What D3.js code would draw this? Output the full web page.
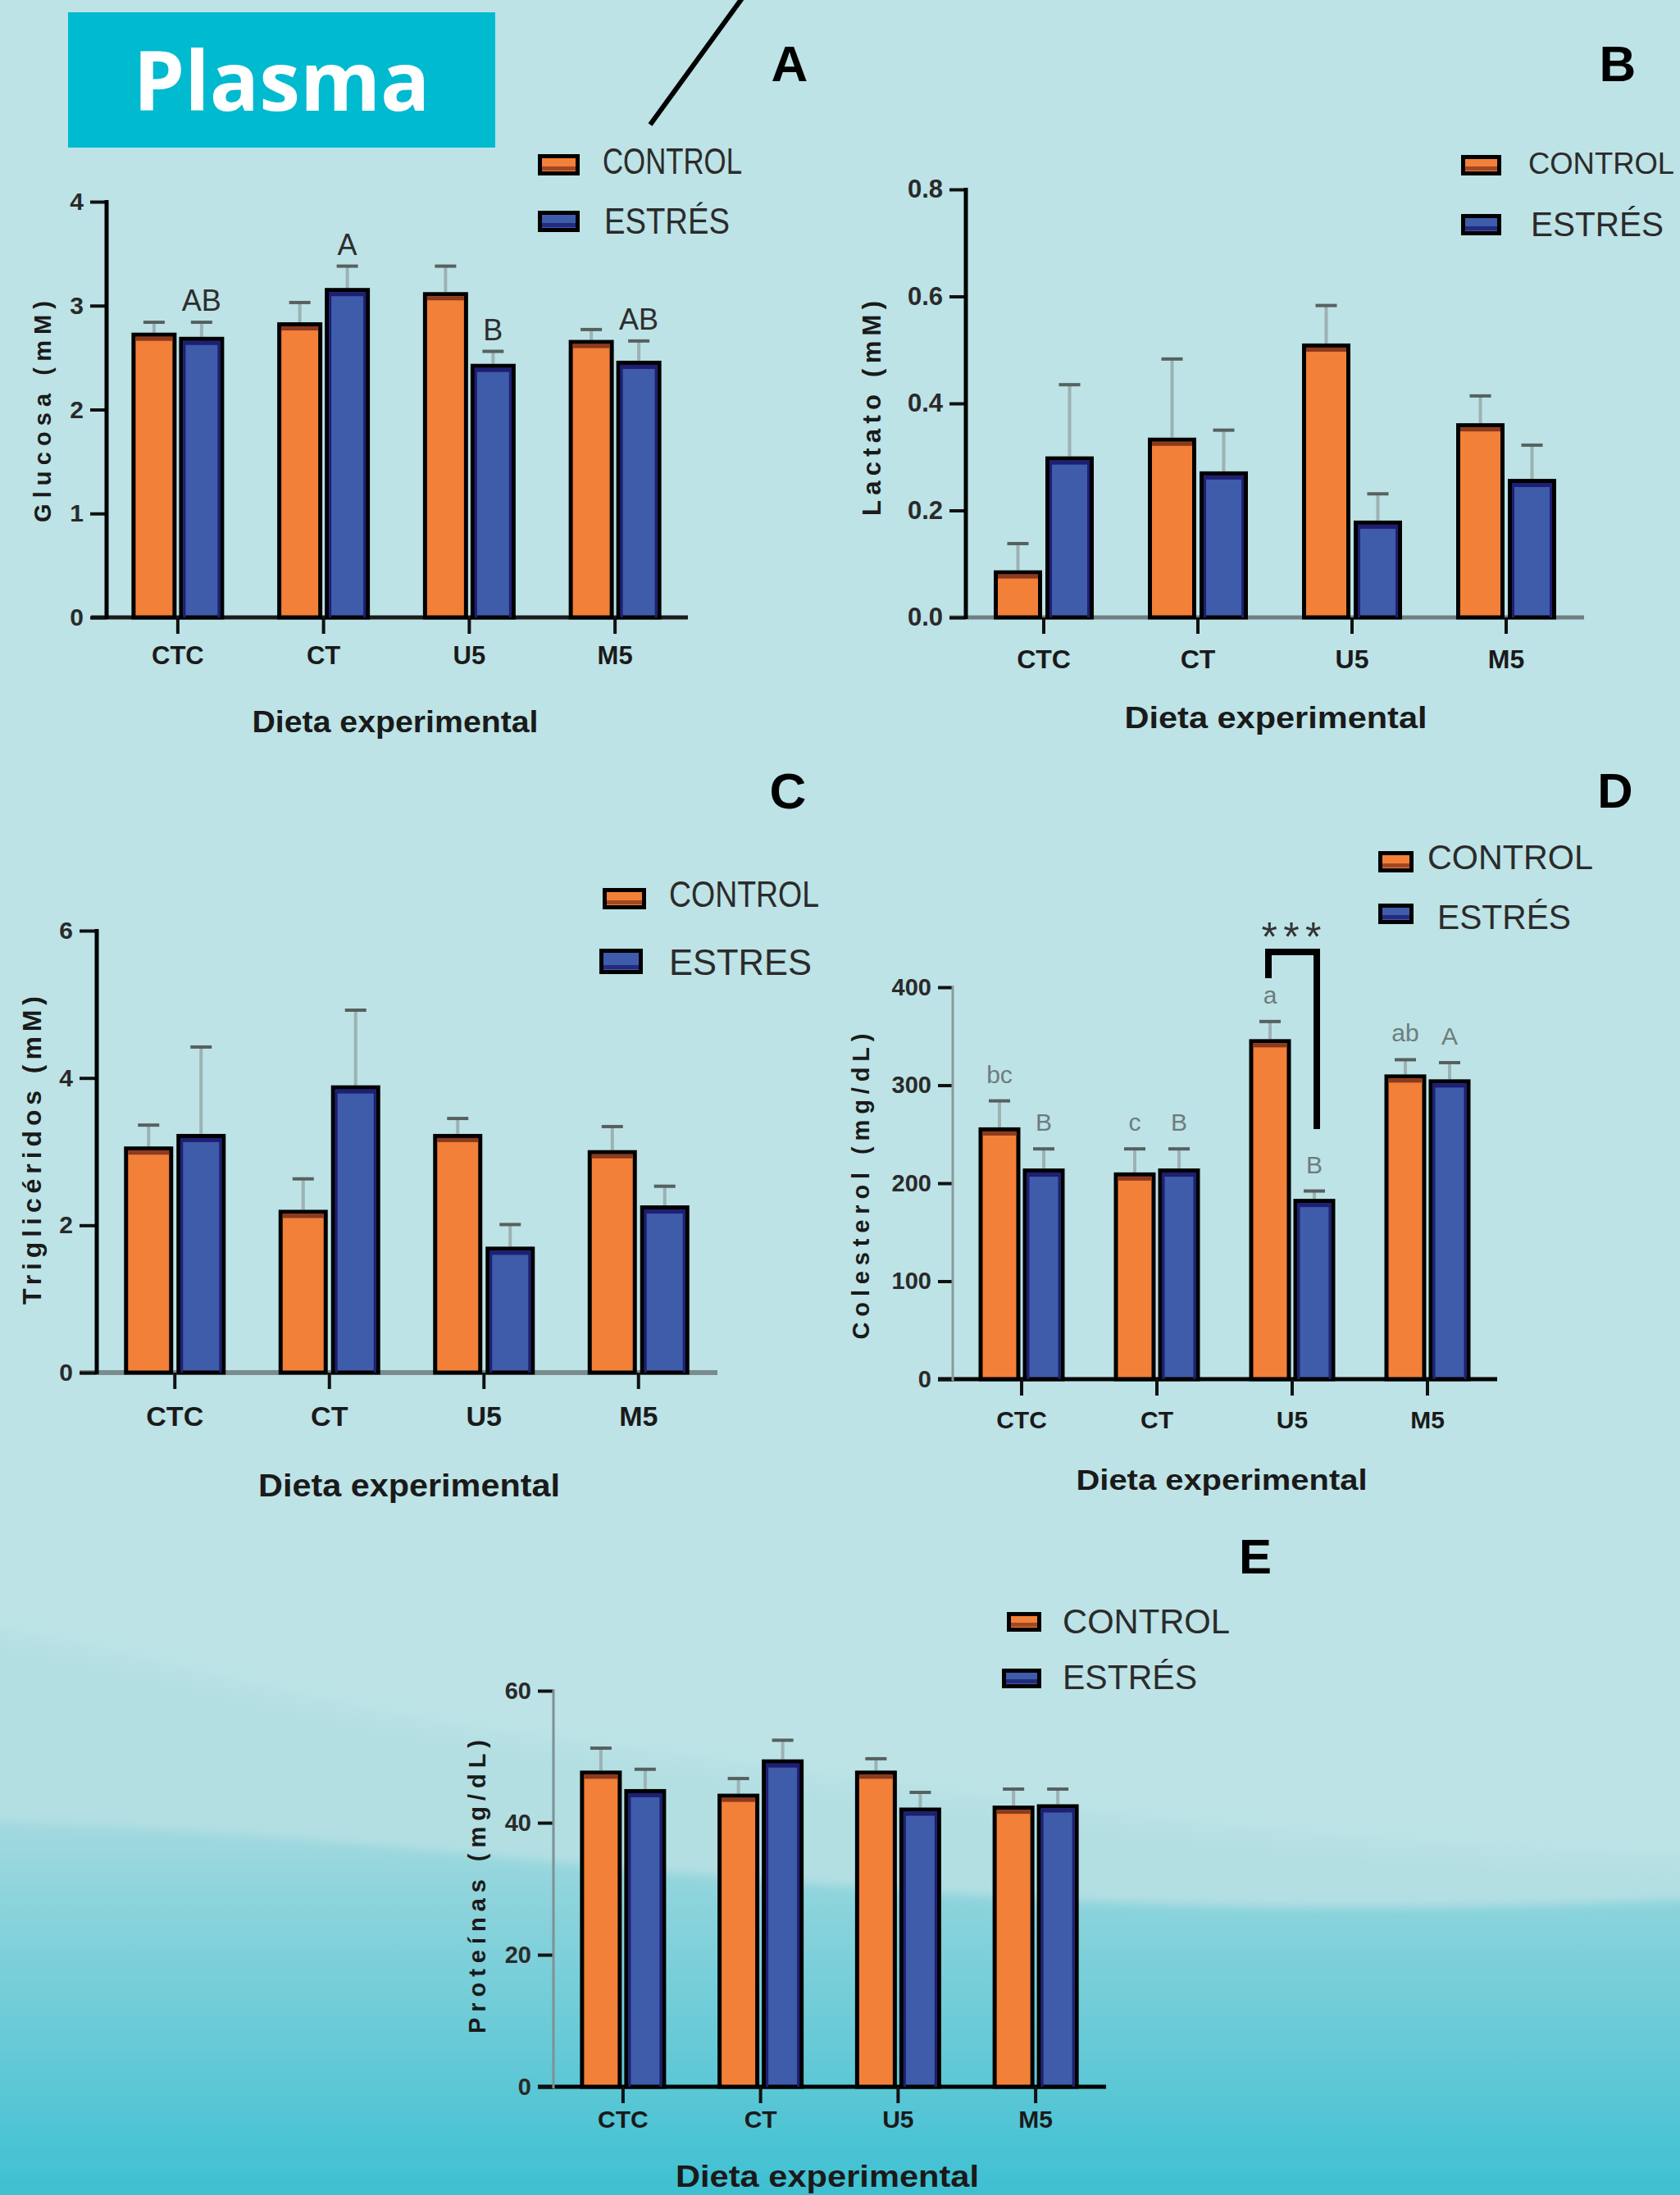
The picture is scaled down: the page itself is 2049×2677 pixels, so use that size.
<!DOCTYPE html>
<html><head><meta charset="utf-8">
<script src="https://cdnjs.cloudflare.com/ajax/libs/d3/7.8.5/d3.min.js"></script>
<style>html,body{margin:0;padding:0;background:#BDE3E6;}svg{display:block;}</style>
</head><body>
<svg id="c" width="2049" height="2677"></svg>
<script>
// ---------------- DATA ----------------
const categories = ["CTC", "CT", "U5", "M5"];
const legendLabels = ["CONTROL", "ESTRÉS"];
const legendLabelsC = ["CONTROL", "ESTRES"];

// A - Glucosa (mM)
const glucosaControl = [2.74, 2.84, 3.13, 2.67];
const glucosaControlErr = [0.10, 0.19, 0.25, 0.10];
const glucosaEstres = [2.70, 3.17, 2.44, 2.47];
const glucosaEstresErr = [0.14, 0.21, 0.12, 0.19];
const glucosaEstresSig = ["AB", "A", "B", "AB"];
const glucosaTicks = [0, 1, 2, 3, 4];

// B - Lactato (mM)
const lactatoControl = [0.088, 0.336, 0.512, 0.363];
const lactatoControlErr = [0.050, 0.147, 0.071, 0.051];
const lactatoEstres = [0.301, 0.273, 0.181, 0.259];
const lactatoEstresErr = [0.134, 0.077, 0.050, 0.063];
const lactatoTicks = [0, 0.2, 0.4, 0.6, 0.8];

// C - Triglicéridos (mM)
const trigControl = [3.07, 2.21, 3.24, 3.02];
const trigControlErr = [0.29, 0.42, 0.21, 0.32];
const trigEstres = [3.24, 3.90, 1.71, 2.27];
const trigEstresErr = [1.18, 1.02, 0.30, 0.26];
const trigTicks = [0, 2, 4, 6];

// D - Colesterol (mg/dL)
const colControl = [257, 211, 347, 311];
const colControlErr = [27, 24, 18, 15];
const colEstres = [215, 215, 184, 306];
const colEstresErr = [20, 20, 8, 17];
const colControlSig = ["bc", "c", "a", "ab"];
const colEstresSig = ["B", "B", "B", "A"];
const colTicks = [0, 100, 200, 300, 400];

// E - Proteínas (mg/dL)
const protControl = [47.9, 44.4, 47.9, 42.6];
const protControlErr = [3.4, 2.3, 1.8, 2.5];
const protEstres = [45.1, 49.6, 42.3, 42.8];
const protEstresErr = [3.0, 2.9, 2.3, 2.3];
const protTicks = [0, 20, 40, 60];

// ---------------- DRAW ----------------
const FONT = "'Liberation Sans', Arial, sans-serif";
const ORANGE = "#F28038", BLUE = "#3E5CAA";
const ORANGE_D = "#8C3A1E", BLUE_D = "#1E1F72";
const svg = d3.select("#c");
const defs = svg.append("defs");

// background
svg.append("rect").attr("width", 2049).attr("height", 2677).attr("fill", "#BDE3E6");
const blur = defs.append("filter").attr("id", "blur").attr("x", "-10%").attr("y", "-10%").attr("width", "120%").attr("height", "120%");
blur.append("feGaussianBlur").attr("stdDeviation", 14);
const blur2 = defs.append("filter").attr("id", "blur2").attr("x", "-10%").attr("y", "-10%").attr("width", "120%").attr("height", "120%");
blur2.append("feGaussianBlur").attr("stdDeviation", 6);
// subtle upper band
svg.append("path")
  .attr("d", "M-60,1985 C150,2010 350,2090 700,2130 C1100,2180 1500,2260 2120,2270 L2120,2780 L-60,2780 Z")
  .attr("fill", "#B3DFE3").attr("filter", "url(#blur)");
// main wave
const lg = defs.append("linearGradient").attr("id", "bgGrad")
  .attr("gradientUnits", "userSpaceOnUse").attr("x1", 0).attr("y1", 2220).attr("x2", 0).attr("y2", 2677);
lg.append("stop").attr("offset", 0).attr("stop-color", "#A3D9DF");
lg.append("stop").attr("offset", 0.35).attr("stop-color", "#7FD0DA");
lg.append("stop").attr("offset", 0.75).attr("stop-color", "#58C6D5");
lg.append("stop").attr("offset", 1).attr("stop-color", "#3DC0D2");
svg.append("path")
  .attr("d", "M-60,2220 C300,2228 600,2268 1000,2298 C1400,2330 1700,2334 2120,2314 L2120,2780 L-60,2780 Z")
  .attr("fill", "url(#bgGrad)").attr("filter", "url(#blur2)");

// Plasma header
svg.append("rect").attr("x", 83).attr("y", 15).attr("width", 521).attr("height", 165).attr("fill", "#00BAD0");
svg.append("text").attr("x", 343.5).attr("y", 135).attr("text-anchor", "middle")
  .attr("font-family", "'Open Sans', 'Noto Sans', sans-serif").attr("font-weight", 700)
  .attr("font-size", 100).attr("fill", "#fff").text("Plasma");
svg.append("line").attr("x1", 793).attr("y1", 152).attr("x2", 905).attr("y2", -2)
  .attr("stroke", "#000").attr("stroke-width", 6);

function drawPanel(c) {
  const g = svg.append("g");
  const x = d3.scaleBand().domain(categories).range(c.xRange).paddingInner(0).paddingOuter(0);
  const y = d3.scaleLinear().domain(c.yDomain).range([c.y0, c.yTop]);

  // x baseline
  g.append("line").attr("x1", c.xLine[0]).attr("x2", c.xLine[1]).attr("y1", c.y0).attr("y2", c.y0)
    .attr("stroke", c.xAxisColor).attr("stroke-width", c.xAxisW);

  // x axis ticks + labels
  const xa = d3.axisBottom(x).tickSize(20).tickPadding(c.xTickPad);
  const xg = g.append("g").attr("transform", `translate(0,${c.y0})`).call(xa)
    .attr("font-family", FONT).attr("font-size", c.xTickFont).attr("font-weight", "bold");
  xg.select(".domain").remove();
  xg.selectAll(".tick line").attr("stroke", "#111").attr("stroke-width", 4);
  xg.selectAll(".tick text").attr("fill", "#1a1a1a");

  // y axis
  const ya = d3.axisLeft(y).tickValues(c.yTicks).tickSize(c.yTickLen).tickPadding(8).tickFormat(c.fmt);
  const yg = g.append("g").attr("transform", `translate(${c.yAxisX},0)`).call(ya)
    .attr("font-family", FONT).attr("font-size", c.yTickFont).attr("font-weight", "bold");
  yg.select(".domain").remove();
  yg.selectAll(".tick line").attr("stroke", "#111").attr("stroke-width", 4);
  yg.selectAll(".tick text").attr("fill", "#2a2a2a");
  g.append("line").attr("x1", c.yAxisX).attr("x2", c.yAxisX).attr("y1", c.y0 + 2).attr("y2", c.yTop - 2)
    .attr("stroke", c.yAxisColor).attr("stroke-width", c.yAxisW);

  // bars
  const sets = [
    { vals: c.ctrl, err: c.ctrlErr, side: -1, fill: ORANGE, dark: ORANGE_D, sig: c.ctrlSig },
    { vals: c.str, err: c.strErr, side: 1, fill: BLUE, dark: BLUE_D, sig: c.strSig }
  ];
  sets.forEach(s => {
    s.vals.forEach((v, i) => {
      const cx = x(categories[i]) + x.bandwidth() / 2;
      const left = s.side < 0 ? cx - c.gap / 2 - c.barW : cx + c.gap / 2;
      const mid = left + c.barW / 2;
      const top = y(v), cap = y(v + s.err[i]);
      g.append("line").attr("x1", mid).attr("x2", mid).attr("y1", top).attr("y2", cap)
        .attr("stroke", "#9DB1B3").attr("stroke-width", 4);
      g.append("line").attr("x1", mid - 13).attr("x2", mid + 13).attr("y1", cap).attr("y2", cap)
        .attr("stroke", "#56615F").attr("stroke-width", 4);
      g.append("rect").attr("x", left + 2.5).attr("y", top + 2.5).attr("width", c.barW - 5)
        .attr("height", c.y0 - top - 2.5).attr("fill", s.fill).attr("stroke", "#000").attr("stroke-width", 5);
      g.append("rect").attr("x", left + 5).attr("y", top + 5).attr("width", c.barW - 10).attr("height", 5)
        .attr("fill", s.dark);
      if (s.side > 0) {
        g.append("rect").attr("x", left + 5).attr("y", top + 5).attr("width", 3).attr("height", c.y0 - top - 5).attr("fill", s.dark);
        g.append("rect").attr("x", left + c.barW - 8).attr("y", top + 5).attr("width", 3).attr("height", c.y0 - top - 5).attr("fill", s.dark);
      }
      if (s.sig) {
        g.append("text").attr("x", mid).attr("y", cap - c.sigOffset).attr("text-anchor", "middle")
          .attr("font-family", FONT).attr("font-size", c.sigFont).attr("fill", c.sigColor).text(s.sig[i]);
      }
    });
  });

  // y title
  g.append("text").attr("transform", `translate(${c.yTitle[0]},${c.yTitle[1]}) rotate(-90)`)
    .attr("text-anchor", "middle").attr("dy", "0.36em")
    .attr("font-family", FONT).attr("font-weight", "bold").attr("font-size", c.yTitleFont)
    .attr("textLength", c.yTitle[2]).attr("lengthAdjust", "spacing")
    .attr("fill", "#1a1a1a").text(c.yTitleText);

  // x title
  g.append("text").attr("x", c.xTitle[0]).attr("y", c.xTitle[1]).attr("text-anchor", "middle")
    .attr("font-family", FONT).attr("font-weight", "bold").attr("font-size", c.xTitleFont)
    .attr("textLength", c.xTitle[2]).attr("lengthAdjust", "spacingAndGlyphs")
    .attr("fill", "#1a1a1a").text("Dieta experimental");

  // panel letter
  g.append("text").attr("x", c.letter[0]).attr("y", c.letter[1]).attr("text-anchor", "middle")
    .attr("font-family", FONT).attr("font-weight", "bold").attr("font-size", c.letterFont)
    .attr("fill", "#000").text(c.letterText);

  // legend
  const fills = [[ORANGE, ORANGE_D], [BLUE, BLUE_D]];
  c.legend.forEach((L, k) => {
    g.append("rect").attr("x", L.sx + 2.5).attr("y", L.sy + 2.5).attr("width", L.sw - 5).attr("height", L.sh - 5)
      .attr("fill", fills[k][0]).attr("stroke", "#000").attr("stroke-width", 5);
    g.append("rect").attr("x", L.sx + 5).attr("y", L.sy + L.sh - 11).attr("width", L.sw - 10).attr("height", 5)
      .attr("fill", fills[k][1]).attr("opacity", 0.8);
    g.append("text").attr("x", L.tx).attr("y", L.ty).attr("dy", "0.36em")
      .attr("font-family", FONT).attr("font-size", L.fs).attr("fill", "#2b2b2b")
      .attr("textLength", L.tl).attr("lengthAdjust", "spacingAndGlyphs").text(c.legendText[k]);
  });
}

// Panel A
drawPanel({
  ctrl: glucosaControl, ctrlErr: glucosaControlErr, str: glucosaEstres, strErr: glucosaEstresErr,
  strSig: glucosaEstresSig, sigOffset: 14, sigFont: 36, sigColor: "#2e2e2e",
  yDomain: [0, 4], yTicks: glucosaTicks, fmt: d3.format("d"),
  xRange: [128, 839], y0: 753, yTop: 246, xLine: [111, 839], xAxisColor: "#1b1b1b", xAxisW: 5,
  yAxisX: 130, yAxisColor: "#000", yAxisW: 5, yTickLen: 20, yTickFont: 30, xTickFont: 31, xTickPad: 15,
  barW: 55, gap: 3,
  yTitle: [52, 502, 270], yTitleFont: 29, yTitleText: "Glucosa (mM)",
  xTitle: [482, 893, 349], xTitleFont: 36,
  letter: [963, 99], letterFont: 62, letterText: "A",
  legendText: legendLabels,
  legend: [
    { sx: 656, sy: 188, sw: 51, sh: 26, tx: 735, ty: 196, fs: 44, tl: 170 },
    { sx: 656, sy: 257, sw: 51, sh: 26, tx: 737, ty: 269, fs: 44, tl: 153 }
  ]
});

// Panel B
drawPanel({
  ctrl: lactatoControl, ctrlErr: lactatoControlErr, str: lactatoEstres, strErr: lactatoEstresErr,
  yDomain: [0, 0.8], yTicks: lactatoTicks, fmt: d3.format(".1f"),
  xRange: [1179, 1931], y0: 753, yTop: 231, xLine: [1158, 1932], xAxisColor: "#6F7F82", xAxisW: 5,
  yAxisX: 1178, yAxisColor: "#000", yAxisW: 5, yTickLen: 20, yTickFont: 31, xTickFont: 32, xTickPad: 19,
  barW: 59, gap: 4,
  yTitle: [1063, 498, 262], yTitleFont: 31, yTitleText: "Lactato (mM)",
  xTitle: [1556, 888, 369], xTitleFont: 37,
  letter: [1973, 99], letterFont: 62, letterText: "B",
  legendText: legendLabels,
  legend: [
    { sx: 1782, sy: 189, sw: 49, sh: 25, tx: 1864, ty: 199, fs: 37, tl: 178 },
    { sx: 1782, sy: 261, sw: 49, sh: 26, tx: 1867, ty: 273, fs: 42, tl: 162 }
  ]
});

// Panel C
drawPanel({
  ctrl: trigControl, ctrlErr: trigControlErr, str: trigEstres, strErr: trigEstresErr,
  yDomain: [0, 6], yTicks: trigTicks, fmt: d3.format("d"),
  xRange: [119, 873], y0: 1674, yTop: 1135, xLine: [97, 875], xAxisColor: "#7B8B8E", xAxisW: 6,
  yAxisX: 118, yAxisColor: "#000", yAxisW: 5, yTickLen: 21, yTickFont: 30, xTickFont: 34, xTickPad: 21,
  barW: 60, gap: 4,
  yTitle: [38, 1403, 376], yTitleFont: 32, yTitleText: "Triglicéridos (mM)",
  xTitle: [499, 1825, 368], xTitleFont: 38,
  letter: [961, 986], letterFont: 62, letterText: "C",
  legendText: legendLabelsC,
  legend: [
    { sx: 735, sy: 1083, sw: 53, sh: 26, tx: 816, ty: 1090, fs: 44, tl: 183 },
    { sx: 731, sy: 1157, sw: 53, sh: 31, tx: 816, ty: 1173, fs: 44, tl: 174 }
  ]
});

// Panel D
drawPanel({
  ctrl: colControl, ctrlErr: colControlErr, str: colEstres, strErr: colEstresErr,
  ctrlSig: colControlSig, strSig: colEstresSig, sigOffset: 22, sigFont: 30, sigColor: "#6E7C7E",
  yDomain: [0, 400], yTicks: colTicks, fmt: d3.format("d"),
  xRange: [1163.5, 1823.5], y0: 1682, yTop: 1204, xLine: [1144, 1826], xAxisColor: "#000", xAxisW: 5,
  yAxisX: 1162, yAxisColor: "#8A9A9C", yAxisW: 3, yTickLen: 18, yTickFont: 29, xTickFont: 30, xTickPad: 19,
  barW: 51, gap: 3,
  yTitle: [1050, 1447, 373], yTitleFont: 29, yTitleText: "Colesterol (mg/dL)",
  xTitle: [1490, 1817, 355], xTitleFont: 35,
  letter: [1970, 985], letterFont: 60, letterText: "D",
  legendText: legendLabels,
  legend: [
    { sx: 1681, sy: 1038, sw: 43, sh: 26, tx: 1741, ty: 1045, fs: 42, tl: 202 },
    { sx: 1681, sy: 1102, sw: 43, sh: 25, tx: 1753, ty: 1118, fs: 42, tl: 163 }
  ]
});

// Panel E
drawPanel({
  ctrl: protControl, ctrlErr: protControlErr, str: protEstres, strErr: protEstresErr,
  yDomain: [0, 60], yTicks: protTicks, fmt: d3.format("d"),
  xRange: [676, 1347], y0: 2545, yTop: 2062, xLine: [656, 1349], xAxisColor: "#000", xAxisW: 5,
  yAxisX: 675, yAxisColor: "#7F9092", yAxisW: 3, yTickLen: 19, yTickFont: 29, xTickFont: 30, xTickPad: 9,
  barW: 51, gap: 3,
  yTitle: [582, 2301, 358], yTitleFont: 29, yTitleText: "Proteínas (mg/dL)",
  xTitle: [1009, 2667, 370], xTitleFont: 36,
  letter: [1531, 1919], letterFont: 60, letterText: "E",
  legendText: legendLabels,
  legend: [
    { sx: 1228, sy: 1966, sw: 42, sh: 24, tx: 1296, ty: 1977, fs: 42, tl: 204 },
    { sx: 1222, sy: 2035, sw: 48, sh: 24, tx: 1296, ty: 2045, fs: 42, tl: 164 }
  ]
});

// Panel D significance bracket (U5 control vs stress)
svg.append("path").attr("d", "M1547,1193 V1161 H1606 V1377").attr("fill", "none")
  .attr("stroke", "#000").attr("stroke-width", 8);
svg.append("text").attr("x", 1575).attr("y", 1160).attr("text-anchor", "middle")
  .attr("font-family", FONT).attr("font-size", 50).attr("fill", "#333")
  .attr("textLength", 73).attr("lengthAdjust", "spacing").text("***");
</script>
</body></html>
